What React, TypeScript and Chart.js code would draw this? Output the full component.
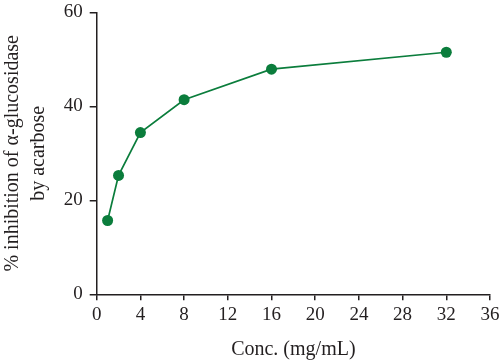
import React, { useEffect, useRef } from "react";
import { Chart, registerables } from "chart.js";

Chart.register(...registerables);

const concentrations = [1, 2, 4, 8, 16, 32];
const inhibition = [15.7, 25.3, 34.4, 41.4, 47.9, 51.5];
const xTicks = [0, 4, 8, 12, 16, 20, 24, 28, 32, 36];
const yTicks = [0, 20, 40, 60];
const xTitle = "Conc. (mg/mL)";
const yTitle = ["% inhibition of α-glucosidase", "by acarbose"];

const GREEN = "#0b7d3c";
const AXIS = "#231f20";
const FONT = "'Liberation Serif', 'DejaVu Serif', serif";

export default function App() {
  const ref = useRef<HTMLCanvasElement | null>(null);
  useEffect(() => {
    if (!ref.current) return;
    const chart = new Chart(ref.current, {
      type: "scatter",
      data: {
        datasets: [
          {
            data: concentrations.map((c, i) => ({ x: c, y: inhibition[i] })),
            showLine: true,
            borderColor: GREEN,
            backgroundColor: GREEN,
            borderWidth: 1.7,
            pointRadius: 5.5,
            pointBackgroundColor: GREEN,
            pointBorderColor: GREEN,
            pointBorderWidth: 0,
          },
        ],
      },
      options: {
        animation: false,
        responsive: false,
        devicePixelRatio: 1,
        layout: { padding: { top: 0, right: 0, left: 0, bottom: 0 } },
        plugins: { legend: { display: false }, tooltip: { enabled: false } },
        scales: {
          x: {
            type: "linear",
            min: 0,
            max: 36,
            afterBuildTicks: (s: any) => {
              s.ticks = xTicks.map((v) => ({ value: v }));
            },
            afterFit: (s: any) => {
              s.height = 67.7;
              s.paddingLeft = 0;
              s.paddingRight = 10;
            },
            ticks: {
              color: AXIS,
              font: { family: FONT, size: 19 },
              padding: 3,
              maxRotation: 0,
            },
            grid: {
              drawOnChartArea: false,
              drawTicks: true,
              tickLength: 6,
              color: AXIS,
              lineWidth: 1.5,
            },
            border: { color: AXIS, width: 1.5 },
            title: {
              display: true,
              text: xTitle,
              color: AXIS,
              font: { family: FONT, size: 20 },
              padding: { top: 4, bottom: 0 },
            },
          },
          y: {
            type: "linear",
            min: 0,
            max: 60,
            afterBuildTicks: (s: any) => {
              s.ticks = yTicks.map((v) => ({ value: v }));
            },
            afterFit: (s: any) => {
              s.width = 96.7;
              s.paddingTop = 12.3;
              s.paddingBottom = 0;
            },
            ticks: {
              color: AXIS,
              font: { family: FONT, size: 19 },
              padding: 7,
            },
            grid: {
              drawOnChartArea: false,
              drawTicks: true,
              tickLength: 7,
              color: AXIS,
              lineWidth: 1.5,
            },
            border: { color: AXIS, width: 1.5 },
            title: {
              display: true,
              text: yTitle,
              color: AXIS,
              font: { family: FONT, size: 20, lineHeight: 1.3 },
              padding: { top: 0, bottom: 0 },
            },
          },
        },
      },
    });
    return () => chart.destroy();
  }, []);
  return (
    <div style={{ position: "fixed", left: 0, top: 0, width: 500, height: 362, background: "#fff" }}>
      <canvas ref={ref} width={500} height={362} style={{ width: 500, height: 362, display: "block" }} />
    </div>
  );
}
